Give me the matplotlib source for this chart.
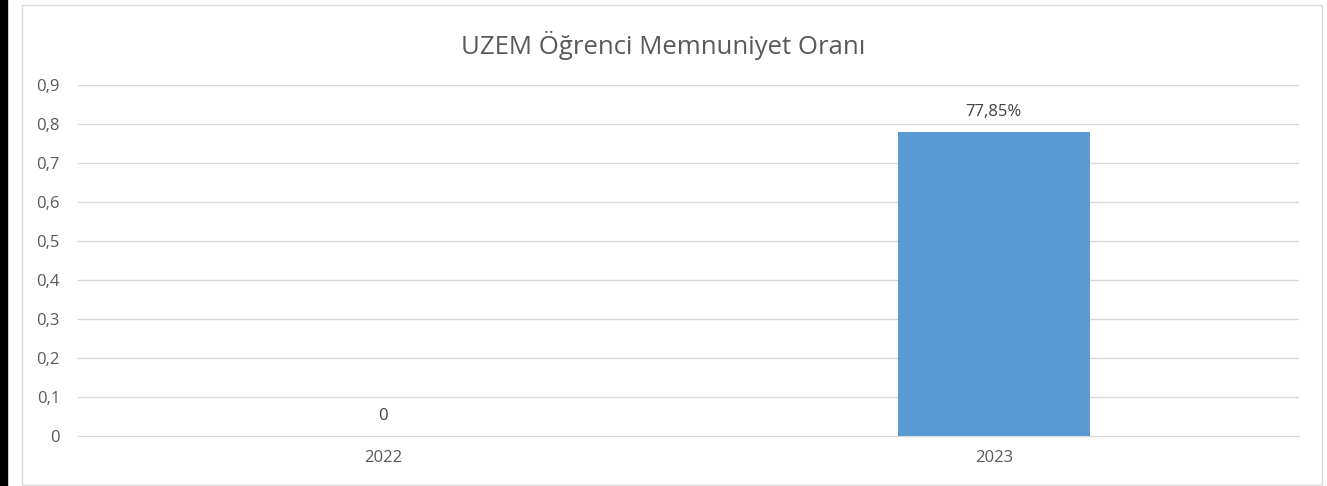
import matplotlib.pyplot as plt
from matplotlib.patches import Rectangle

# data
years = ["2022", "2023"]
rates = [0.0, 0.7785]
labels = ["0", "77,85%"]
yticks = [0, 0.1, 0.2, 0.3, 0.4, 0.5, 0.6, 0.7, 0.8, 0.9]

W, H = 1327, 486
fig = plt.figure(figsize=(W / 100, H / 100), dpi=100)
plt.rcParams['font.family'] = ['Open Sans', 'DejaVu Sans']

# black strip on the left and the chart frame
fig.add_artist(Rectangle((0, 0), 7 / W, 1, transform=fig.transFigure,
                         color="black", zorder=0))
fig.add_artist(Rectangle((22 / W, 1 / H), 1300 / W, 480 / H, transform=fig.transFigure,
                         facecolor="white", edgecolor="#d9d9d9", lw=1, zorder=0))

ax = fig.add_axes([78 / W, 50 / H, 1221 / W, 351 / H])
x = range(len(years))
ax.bar(x, rates, width=0.315, color="#5b9bd5", zorder=3)
ax.set_xlim(-0.5, 1.5)
ax.set_ylim(0, 0.9)
ax.set_yticks(yticks)
ax.set_yticklabels([f"{v:g}".replace(".", ",") for v in yticks])
ax.set_xticks(list(x))
ax.set_xticklabels(years)
ax.tick_params(length=0, labelsize=12, colors="#595959", pad=13)
ax.tick_params(axis="x", pad=10)
ax.grid(axis="y", color="#d9d9d9", lw=1, zorder=0)
for s in ax.spines.values():
    s.set_visible(False)
ax.spines["bottom"].set_visible(True)
ax.spines["bottom"].set_color("#d9d9d9")
ax.set_facecolor("none")

for i, (v, t) in enumerate(zip(rates, labels)):
    ax.annotate(t, (i, v), xytext=(0, 9), textcoords="offset points",
                ha="center", va="bottom", fontsize=12, color="#404040")

fig.text(0.5, 1 - 45 / H, "UZEM Öğrenci Memnuniyet Oranı", ha="center", va="center",
         fontsize=18.5, color="#595959")

fig.savefig("out.png", dpi=100)
